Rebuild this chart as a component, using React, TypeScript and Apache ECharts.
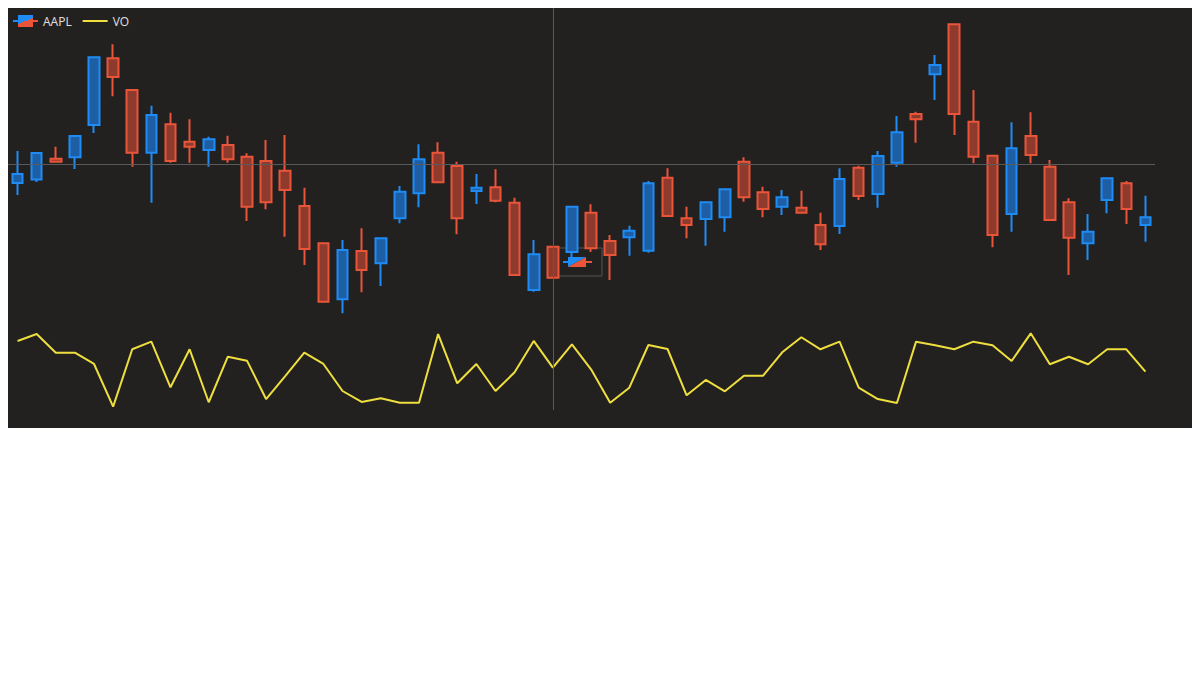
import { useEffect, useRef } from 'react';
import * as echarts from 'echarts';

const categories = [
  '1', '2', '3', '4', '5', '6', '7', '8', '9', '10',
  '11', '12', '13', '14', '15', '16', '17', '18', '19', '20',
  '21', '22', '23', '24', '25', '26', '27', '28', '29', '30',
  '31', '32', '33', '34', '35', '36', '37', '38', '39', '40',
  '41', '42', '43', '44', '45', '46', '47', '48', '49', '50',
  '51', '52', '53', '54', '55', '56', '57', '58', '59', '60',
];

// [open, close, low, high]
const aaplOHLC: number[][] = [
  [156.47, 158.71, 153.48, 164.43],
  [157.34, 163.93, 156.72, 164.18],
  [162.51, 161.77, 161.57, 165.5],
  [162.86, 168.16, 159.95, 168.28],
  [170.9, 187.74, 168.91, 187.81],
  [187.49, 182.84, 178.03, 190.97],
  [179.6, 164.0, 160.52, 179.73],
  [164.0, 173.38, 151.57, 175.7],
  [171.07, 161.94, 161.52, 173.96],
  [166.74, 165.5, 161.52, 172.31],
  [164.68, 167.34, 160.52, 167.98],
  [165.92, 162.36, 161.52, 168.23],
  [163.01, 150.57, 147.01, 163.86],
  [161.94, 151.67, 149.92, 167.16],
  [159.53, 154.73, 143.11, 168.41],
  [150.75, 140.05, 136.07, 155.3],
  [141.47, 126.94, 126.69, 141.67],
  [127.54, 139.8, 124.05, 142.29],
  [139.55, 134.83, 129.28, 145.2],
  [136.49, 142.71, 130.85, 142.83],
  [147.69, 154.3, 146.44, 155.72],
  [153.91, 162.36, 150.42, 166.09],
  [164.0, 156.64, 156.39, 166.59],
  [160.7, 147.69, 143.71, 161.77],
  [154.48, 155.3, 151.24, 158.71],
  [155.4, 152.06, 151.67, 159.88],
  [151.57, 133.58, 133.46, 152.81],
  [129.85, 138.73, 129.43, 142.29],
  [140.62, 132.91, 132.76, 140.67],
  [139.3, 150.57, 137.81, 150.75],
  [149.08, 140.22, 139.3, 151.17],
  [142.04, 138.56, 132.34, 143.53],
  [142.96, 144.6, 138.38, 145.85],
  [139.63, 156.39, 139.13, 156.96],
  [157.79, 148.26, 148.13, 160.12],
  [147.69, 146.02, 142.71, 150.57],
  [147.51, 151.67, 140.87, 151.74],
  [147.94, 154.9, 144.35, 155.15],
  [161.77, 152.91, 151.82, 162.86],
  [154.15, 150.0, 147.94, 155.55],
  [150.57, 152.91, 148.51, 154.73],
  [150.32, 149.08, 148.96, 154.55],
  [146.02, 141.22, 139.8, 149.08],
  [145.77, 157.46, 143.78, 160.12],
  [160.27, 153.23, 152.24, 160.77],
  [153.73, 163.18, 150.32, 164.43],
  [161.52, 169.08, 160.52, 173.13],
  [173.63, 172.31, 166.49, 174.2],
  [183.51, 185.82, 177.11, 188.31],
  [195.95, 173.63, 168.41, 196.19],
  [171.72, 163.01, 161.37, 179.6],
  [163.26, 143.53, 140.47, 163.43],
  [148.76, 165.1, 144.35, 171.57],
  [168.16, 163.43, 161.37, 174.05],
  [160.52, 147.26, 147.14, 162.19],
  [151.67, 142.86, 133.58, 152.66],
  [141.47, 144.35, 137.31, 148.76],
  [152.24, 157.64, 148.93, 157.71],
  [156.39, 150.0, 146.27, 156.96],
  [146.02, 147.94, 141.87, 153.31],
];

const voValues = [
  206.87, 207.56, 205.7, 205.7, 204.58, 200.33, 206.04, 206.8, 202.26, 206.04,
  200.77, 205.3, 204.91, 201.09, 203.38, 205.7, 204.58, 201.89, 200.8, 201.16,
  200.73, 200.73, 207.56, 202.66, 204.58, 201.89, 203.75, 206.87, 204.21, 206.54,
  204.05, 200.73, 202.22, 206.47, 206.07, 201.46, 202.99, 201.86, 203.41, 203.41,
  205.74, 207.24, 206.04, 206.8, 202.22, 201.09, 200.7, 206.8, 206.44, 206.04,
  206.8, 206.44, 204.88, 207.63, 204.55, 205.3, 204.55, 206.04, 206.04, 203.81,
];

const priceAxisRange = [100, 200];
const voAxisRange = [200, 240];
const crossIndex = 28;
const crossPrice = 161.19;

const UP_FILL = '#1d5ea4';
const UP_BORDER = '#1e8cf4';
const DOWN_FILL = '#8e3a2c';
const DOWN_BORDER = '#ea553a';
const VO_COLOR = '#efdf3e';
const BG = '#222120';

const splitGradient = {
  type: 'linear',
  x: 0,
  y: 0,
  x2: 1,
  y2: 1,
  colorStops: [
    { offset: 0, color: UP_BORDER },
    { offset: 0.5, color: UP_BORDER },
    { offset: 0.5, color: DOWN_BORDER },
    { offset: 1, color: DOWN_BORDER },
  ],
};

const candleIconPath =
  'path://M0,5 H5 V7 H0 Z M5,0 H20 V12 H5 Z M20,5 H25 V7 H20 Z';

export default function App() {
  const ref = useRef<HTMLDivElement>(null);
  useEffect(() => {
    if (!ref.current) return;
    const chart = echarts.init(ref.current, null, { renderer: 'svg' });
    const hiddenAxisParts = {
      axisLine: { show: false },
      axisTick: { show: false },
      axisLabel: { show: false },
      splitLine: { show: false },
    };
    chart.setOption({
      animation: false,
      backgroundColor: BG,
      textStyle: { fontFamily: 'Open Sans, Noto Sans, sans-serif' },
      legend: {
        left: 0,
        top: 2,
        itemWidth: 25,
        itemHeight: 12,
        data: [
          { name: 'AAPL', icon: candleIconPath, itemStyle: { color: splitGradient, borderWidth: 0 } },
          { name: 'VO', itemStyle: { color: 'rgba(0,0,0,0)', borderWidth: 0, opacity: 0 } },
        ],
        textStyle: { color: '#e0e0e0', fontSize: 12 },
        itemGap: 10,
      },
      grid: { left: 0, right: 37, top: 0, bottom: 18, containLabel: false },
      xAxis: {
        type: 'category',
        data: categories,
        boundaryGap: true,
        ...hiddenAxisParts,
        axisPointer: {
          show: true,
          type: 'line',
          value: crossIndex,
          status: 'show',
          lineStyle: { color: '#5a5a5a', width: 1, type: 'solid' },
          label: { show: false },
        },
      },
      yAxis: [
        {
          type: 'value',
          min: priceAxisRange[0],
          max: priceAxisRange[1],
          ...hiddenAxisParts,
          axisPointer: {
            show: true,
            type: 'line',
            snap: false,
            value: crossPrice,
            status: 'show',
            lineStyle: { color: '#5a5a5a', width: 1, type: 'solid' },
            label: { show: false },
          },
        },
        {
          type: 'value',
          min: voAxisRange[0],
          max: voAxisRange[1],
          ...hiddenAxisParts,
        },
      ],
      series: [
        {
          name: 'AAPL',
          type: 'candlestick',
          data: aaplOHLC,
          yAxisIndex: 0,
          barWidth: '58%',
          itemStyle: {
            color: UP_FILL,
            color0: DOWN_FILL,
            borderColor: UP_BORDER,
            borderColor0: DOWN_BORDER,
            borderWidth: 2,
          },
        },
        {
          name: 'VO',
          type: 'line',
          data: voValues,
          yAxisIndex: 1,
          showSymbol: false,
          symbol: 'none',
          lineStyle: { color: VO_COLOR, width: 2 },
          itemStyle: { color: VO_COLOR },
        },
      ],
      graphic: [
        {
          type: 'group',
          x: 550,
          y: 240,
          children: [
            {
              type: 'rect',
              shape: { x: 0, y: 0, width: 44, height: 28 },
              style: { fill: 'rgba(34,33,32,0.85)', stroke: '#555', lineWidth: 1 },
            },
            {
              type: 'line',
              shape: { x1: 5, y1: 14, x2: 10, y2: 14 },
              style: { stroke: UP_BORDER, lineWidth: 2 },
            },
            {
              type: 'line',
              shape: { x1: 28, y1: 14, x2: 34, y2: 14 },
              style: { stroke: DOWN_BORDER, lineWidth: 2 },
            },
            {
              type: 'polygon',
              shape: { points: [[10, 9], [28, 9], [10, 19]] },
              style: { fill: UP_BORDER },
            },
            {
              type: 'polygon',
              shape: { points: [[28, 9], [28, 19], [10, 19]] },
              style: { fill: DOWN_BORDER },
            },
          ],
        },
      ],
    });
    return () => chart.dispose();
  }, []);
  return <div ref={ref} style={{ width: 1184, height: 420 }} />;
}
